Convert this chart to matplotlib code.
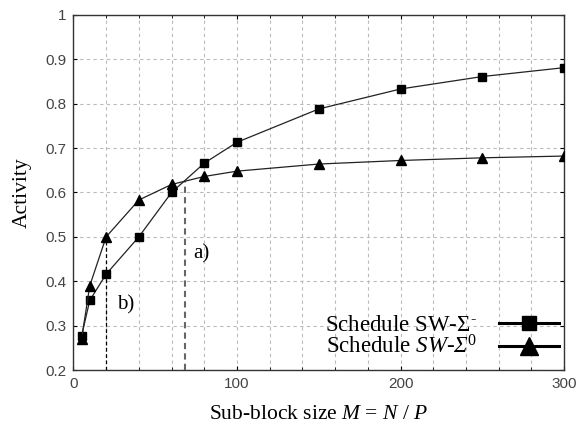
import matplotlib
matplotlib.use("Agg")
import matplotlib.pyplot as plt
from matplotlib.ticker import MultipleLocator

x_vals = [5, 10, 20, 40, 60, 80, 100, 150, 200, 250, 300]
sw_minus = [0.277, 0.357, 0.416, 0.500, 0.600, 0.666, 0.713, 0.788, 0.833, 0.861, 0.881]
sw_zero = [0.270, 0.390, 0.500, 0.583, 0.618, 0.636, 0.648, 0.664, 0.672, 0.678, 0.682]
label_minus = r"Schedule SW-Σ$^{\text{-}}$"
label_zero = r"Schedule $SW$-$\mathsf{Σ}^{0}$"
mark_b = (20, 0.5)
mark_a = (68, 0.625)

plt.rcParams['mathtext.fontset'] = 'custom'
plt.rcParams['mathtext.rm'] = 'Liberation Serif'
plt.rcParams['mathtext.it'] = 'Liberation Serif:italic'
plt.rcParams['mathtext.sf'] = 'Liberation Serif:italic'
plt.rcParams['mathtext.bf'] = 'Liberation Serif:bold'

fig = plt.figure(figsize=(5.78, 4.23), dpi=100)
ax = fig.add_axes([0.127, 0.125, 0.849, 0.84])

ax.plot(x_vals, sw_minus, color='#222222', lw=0.9, marker='s', ms=5.8,
        mfc='black', mec='black', label=label_minus, zorder=4)
ax.plot(x_vals, sw_zero, color='#222222', lw=0.9, marker='^', ms=7,
        mfc='black', mec='black', label=label_zero, zorder=4)

ax.plot([mark_b[0], mark_b[0]], [0.2, mark_b[1]], color='black', lw=0.9,
        ls=(0, (3, 2)), zorder=3)
ax.plot([mark_a[0], mark_a[0]], [0.2, mark_a[1]], color='#666666', lw=1.5,
        ls=(0, (3, 2)), zorder=3)
ax.text(73, 0.462, "a)", family='Liberation Serif', fontsize=15, va='center')
ax.text(26.5, 0.346, "b)", family='Liberation Serif', fontsize=15, va='center')

ax.set_xlim(0, 300)
ax.set_ylim(0.2, 1.0)
ax.xaxis.set_major_locator(MultipleLocator(100))
ax.xaxis.set_minor_locator(MultipleLocator(20))
ax.set_yticks([0.2, 0.3, 0.4, 0.5, 0.6, 0.7, 0.8, 0.9, 1.0])
ax.set_yticklabels(['0.2', '0.3', '0.4', '0.5', '0.6', '0.7', '0.8', '0.9', '1'])
ax.grid(True, which='both', color='#bbbbbb', ls=(0, (3, 3)), lw=0.8)
ax.tick_params(which='both', direction='in', top=True, right=True, length=3,
               labelsize=11, labelcolor='#444444', pad=5)
ax.tick_params(which='minor', length=2)
for lab in ax.get_xticklabels() + ax.get_yticklabels():
    lab.set_family('Liberation Sans')
for s in ax.spines.values():
    s.set_color('#333333')
    s.set_linewidth(1.0)

ax.set_xlabel(r"Sub-block size $M$ = $N$ / $P$", family='Liberation Serif',
              fontsize=15.5, labelpad=10)
ax.set_ylabel("Activity", family='Liberation Serif', fontsize=15.5, labelpad=10)

leg = ax.legend(loc='lower right', frameon=False, markerfirst=False,
                handlelength=2.6, markerscale=1.75,
                prop={'family': 'Liberation Serif', 'size': 16.5},
                borderaxespad=0.0, labelspacing=0.0, handletextpad=1.0,
                bbox_to_anchor=(1.008, 0.006))
for ln in leg.get_lines():
    ln.set_linewidth(2.2)
    ln.set_color('black')

fig.savefig("out.png", dpi=100)
